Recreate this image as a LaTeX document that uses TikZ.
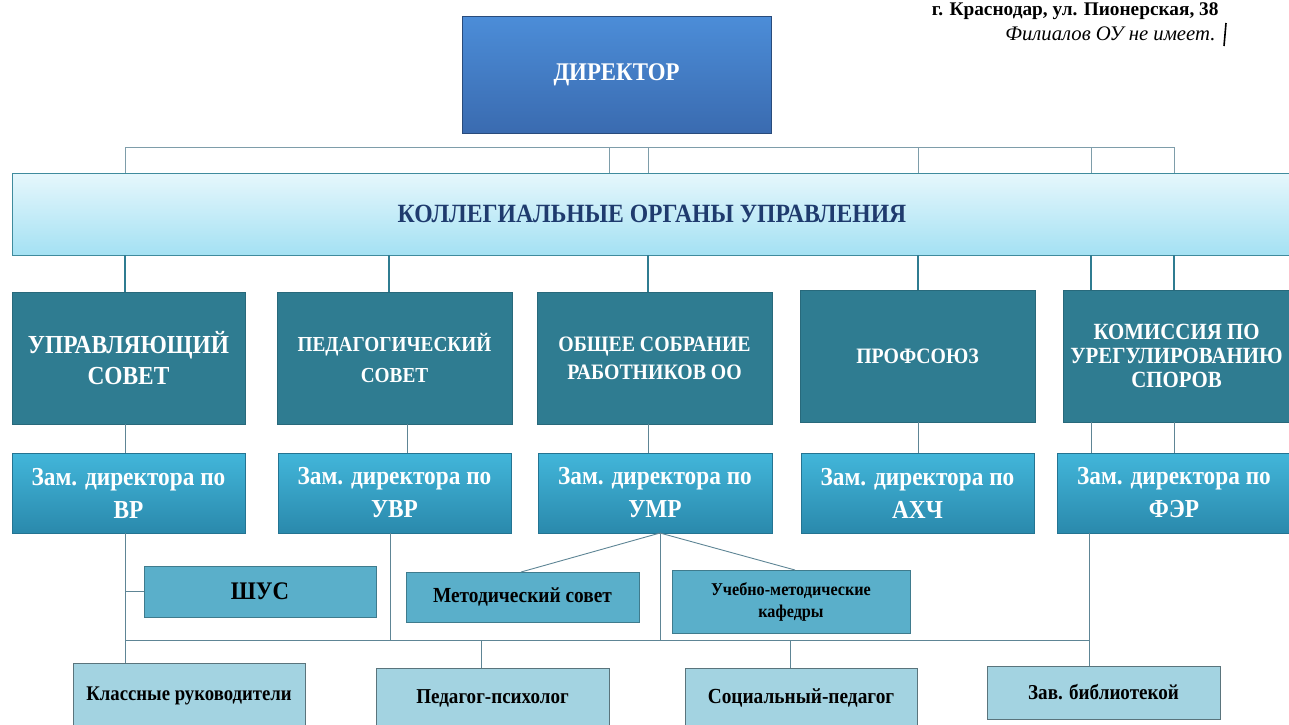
\documentclass[tikz,border=0pt]{standalone}
\usepackage{fontspec}
\setmainfont[FakeStretch=0.9]{Liberation Serif}
\newfontfamily\plainfont{Liberation Serif}
\usetikzlibrary{calc}

\definecolor{dirtop}{HTML}{4C8DD8}
\definecolor{dirbot}{HTML}{3A6BB0}
\definecolor{koltop}{HTML}{E6F7FC}
\definecolor{kolbot}{HTML}{A4E1F3}
\definecolor{kolline}{HTML}{3F8B9D}
\definecolor{kolfont}{HTML}{1F3B6E}
\definecolor{sovfill}{HTML}{2F7C91}
\definecolor{zamtop}{HTML}{42B6DA}
\definecolor{zambot}{HTML}{2A89AC}
\definecolor{midfill}{HTML}{5AAFCA}
\definecolor{lowfill}{HTML}{A3D3E1}
\definecolor{linegray}{HTML}{5E8595}

\tikzset{
	box/.style={draw, line width=0.6pt, inner sep=0pt, outer sep=0pt, align=center},
	dirbox/.style={box, draw=dirbot!70!black, top color=dirtop, bottom color=dirbot, text=white,
		minimum width=309, minimum height=117, font=\bfseries\fontsize{25.4}{28}\selectfont},
	kolbox/.style={box, draw=kolline, top color=koltop, bottom color=kolbot, text=kolfont,
		minimum width=1280, minimum height=82, font=\bfseries\fontsize{26.3}{30}\selectfont},
	sovbox/.style={box, draw=sovfill!85!black, fill=sovfill, text=white,
		minimum width=233, minimum height=132, font=\bfseries\fontsize{21.4}{31}\selectfont},
	zambox/.style={box, draw=zambot!85!black, top color=zamtop, bottom color=zambot, text=white,
		minimum width=233, minimum height=80, font=\bfseries\fontsize{25.9}{33}\selectfont},
	midbox/.style={box, draw=midfill!70!black, fill=midfill, text=black,
		minimum width=233, minimum height=50, font=\bfseries\fontsize{21.5}{24}\selectfont},
	lowbox/.style={box, draw=lowfill!55!black, fill=lowfill, text=black,
		minimum width=233, minimum height=60, font=\bfseries\fontsize{21.2}{24}\selectfont},
	busline/.style={draw=linegray!80, line width=0.9pt},
	thickline/.style={draw=sovfill, line width=2.4pt},
	link/.style={draw=linegray, line width=0.9pt}
}

\begin{document}
\begin{tikzpicture}[x=1pt, y=-1pt]
	\useasboundingbox (0,0) rectangle (1289,724);

	\node[dirbox] (dir) at (616.5,74.5) {ДИРЕКТОР};
	\node[kolbox] (kol) at (652,214) {КОЛЛЕГИАЛЬНЫЕ ОРГАНЫ УПРАВЛЕНИЯ};

	\node[sovbox, font=\bfseries\fontsize{26}{31}\selectfont] (upr) at (128.5,358) {УПРАВЛЯЮЩИЙ\\СОВЕТ};
	\node[sovbox, minimum width=235] (ped) at (394.5,358) {ПЕДАГОГИЧЕСКИЙ\\СОВЕТ};
	\node[sovbox, minimum width=235, font=\bfseries\fontsize{22}{28}\selectfont] (obsh) at (654.5,358) {ОБЩЕЕ СОБРАНИЕ\\РАБОТНИКОВ ОО};
	\node[sovbox, minimum width=235, font=\bfseries\fontsize{22}{28}\selectfont] (prof) at (917.5,356) {ПРОФСОЮЗ};
	\node[sovbox, minimum width=227, font=\bfseries\fontsize{23.2}{24}\selectfont] (kom) at (1176.5,356) {КОМИССИЯ ПО\\УРЕГУЛИРОВАНИЮ\\СПОРОВ};

	\node[zambox] (vr) at (128.5,493) {Зам. директора по\\ВР};
	\node[zambox] (uvr) at (394.5,493) {Зам. директора по\\УВР};
	\node[zambox, minimum width=234] (umr) at (655,493) {Зам. директора по\\УМР};
	\node[zambox] (ahch) at (917.5,493) {Зам. директора по\\АХЧ};
	\node[zambox, minimum width=234] (fer) at (1174,493) {Зам. директора по\\ФЭР};

	\node[midbox, minimum width=232, minimum height=51, font=\bfseries\fontsize{25.3}{28}\selectfont] (shus) at (260,591.5) {ШУС};
	\node[midbox] (metsov) at (522.5,597) {Методический совет};
	\node[midbox, minimum width=238, minimum height=63, font=\bfseries\fontsize{18}{22}\selectfont] (ukaf) at (791,601.5) {Учебно-методические\\кафедры};

	\node[lowbox, minimum width=232, minimum height=66, font=\bfseries\fontsize{20.8}{24}\selectfont] (klass) at (189,696) {Классные руководители};
	\node[lowbox] (psih) at (492.5,698) {Педагог-психолог};
	\node[lowbox, minimum width=232, font=\bfseries\fontsize{21.5}{24}\selectfont] (soc) at (801,698) {Социальный-педагог};
	\node[lowbox, minimum height=53] (bib) at (1103.5,692.5) {Зав. библиотекой};

	\node[anchor=east, font=\plainfont\bfseries\fontsize{19.3}{22}\selectfont] (adr) at (1222,11) {г. Краснодар, ул. Пионерская, 38};
	\node[anchor=east, font=\plainfont\itshape\fontsize{20.7}{23}\selectfont] (fil) at (1219,34) {Филиалов ОУ не имеет.};
	\draw[line width=1.6pt] (1226,23) -- (1224,46);

	\coordinate (tb1) at (125,147);
	\coordinate (tb2) at (609,147);
	\coordinate (tb3) at (648,147);
	\coordinate (tb4) at (918,147);
	\coordinate (tb5) at (1091,147);
	\coordinate (tb6) at (1174,147);
	\draw[busline] (tb1) -- (tb6);
	\foreach \i in {1,...,6}
		\draw[busline] (tb\i) -- (tb\i |- kol.north);

	\foreach \xx/\nn in {125/upr,389/ped,648/obsh,918/prof,1091/kom,1174/kom}
		\draw[thickline] (kol.south -| \xx,0) -- (\nn.north -| \xx,0);

	\foreach \xx/\aa/\bb in {125/upr/vr,407/ped/uvr,648/obsh/umr,918/prof/ahch,1091/kom/fer,1174/kom/fer}
		\draw[link] (\aa.south -| \xx,0) -- (\bb.north -| \xx,0);

	\coordinate (bus) at (0,640);
	\coordinate (umrb) at (umr.south -| 660,0);
	\draw[link] (vr.south -| 125,0) -- (klass.north -| 125,0);
	\draw[link] (shus.west -| 125,0) -- (shus.west);
	\draw[link] (bus -| 125,0) -- (bus -| 1089,0);
	\draw[link] (uvr.south -| 390,0) -- (bus -| 390,0);
	\draw[link] (umrb) -- (bus -| 660,0);
	\draw[link] (umrb) -- (metsov.north -| 521,0);
	\draw[link] (umrb) -- (ukaf.north -| 795,0);
	\draw[link] (bus -| 481,0) -- (psih.north -| 481,0);
	\draw[link] (bus -| 790,0) -- (soc.north -| 790,0);
	\draw[link] (fer.south -| 1089,0) -- (bib.north -| 1089,0);
\end{tikzpicture}
\end{document}
